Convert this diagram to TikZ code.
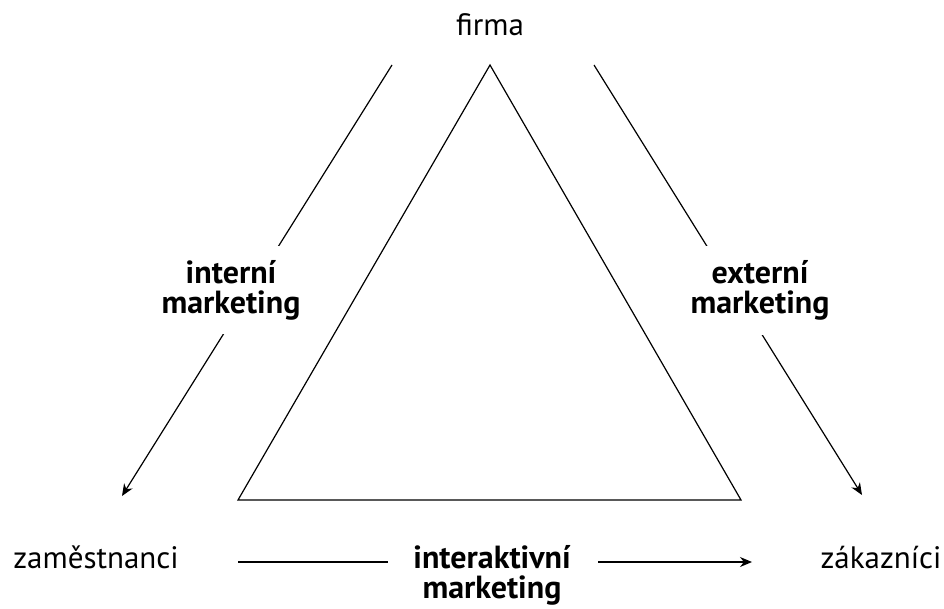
\documentclass[tikz,border=0pt]{standalone}
\usepackage{fontspec}
\setmainfont{PT Sans}
\usepackage{tikz}
\usetikzlibrary{arrows.meta,positioning}
\tikzset{every picture/.style={line width=1.2pt}}
\tikzstyle{place}=[font=\fontsize{31}{36}\selectfont]
\tikzstyle{lbl}=[font=\fontsize{32}{30}\selectfont\bfseries,align=center,fill=white]
\tikzstyle{tip}=[-{Stealth[length=12pt,width=10pt]}]

\begin{document}
\begin{tikzpicture}[x=1pt,y=-1pt]
\useasboundingbox (0,0) rectangle (944,608);
\node[place,anchor=base] (F) at (490,35) {firma};
\node[place,anchor=base] (Z) at (96,568) {zaměstnanci};
\node[place,anchor=base] (K) at (881,568) {zákazníci};
\coordinate (F1) at (392,65);
\coordinate (Z1) at (122,496);
\coordinate (F2) at (594,65);
\coordinate (K1) at (862,495);
\coordinate (Z2) at (238,562);
\coordinate (A1) at (388,562);
\coordinate (A2) at (598,562);
\coordinate (K2) at (752,562);
\draw (490,65) -- (741,500) -- (238,500) -- cycle;
\path[tip]
(F1) edge (Z1)
(F2) edge (K1);
\node[lbl,minimum width=147pt,minimum height=88pt,text width=147pt] (I) at (231,290) {interní\\marketing};
\node[lbl,minimum width=160pt,minimum height=89pt,text width=160pt] (E) at (760,290) {externí\\marketing};
\node[lbl,anchor=base,inner sep=0pt] (IA) at (492,598) {interaktivní\\marketing};
\draw (Z2) -- (A1);
\draw[tip] (A2) -- (K2);
\end{tikzpicture}
\end{document}
